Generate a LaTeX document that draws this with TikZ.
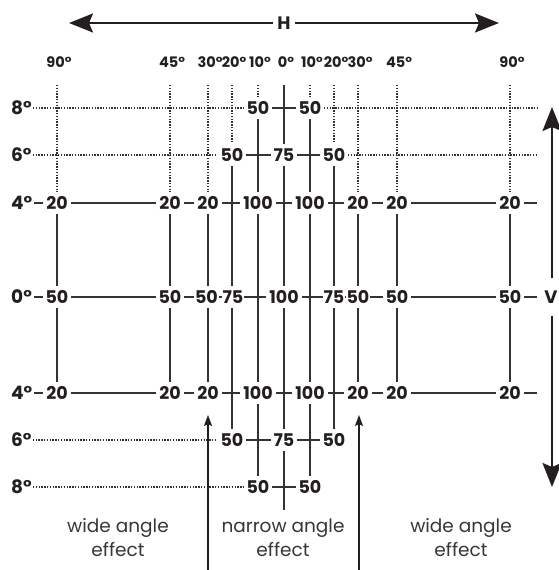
\documentclass[tikz,border=0pt]{standalone}
\usepackage{fontspec}
\setmainfont{Poppins}
\usetikzlibrary{arrows.meta}
\pgfdeclarelayer{bg}
\pgfsetlayers{bg,main}
\definecolor{ink}{HTML}{231F20}
\definecolor{ln}{HTML}{333333}
\begin{document}
\begin{tikzpicture}[x=1pt,y=-1pt,
  val/.style={font=\fontsize{17.5}{17.5}\selectfont\bfseries, text=ink, fill=white, inner xsep=3pt, inner ysep=4.5pt},
  tight/.style={inner xsep=0.7pt},
  hdr/.style={font=\fontsize{14.5}{15}\selectfont\bfseries, text=ink, inner sep=0pt},
  rowlab/.style={font=\fontsize{18.5}{19}\selectfont\bfseries, text=ink, anchor=west, inner sep=0pt},
  caption/.style={font=\fontsize{18.5}{24}\selectfont, text=ink!90, anchor=base},
  solidln/.style={draw=ln, line width=1.4pt},
  dotln/.style={draw=ln, line width=1.2pt, dash pattern=on 1.4pt off 1.4pt},
  bigarrow/.style={draw=ink, line width=2.2pt, -{Stealth[length=24pt,width=19pt,inset=4pt]}},
  thinarrow/.style={draw=ink, line width=1.3pt, -{Stealth[length=11pt,width=8pt,inset=2pt]}},
]
\useasboundingbox (0,0) rectangle (558,570);

% ---- header angles
\foreach \n/\x/\t in {A/57/90, B/170/45, C/208/30, D/232/20, E/258/10, F/284/0, G/310/10, H/334/20, I/358/30, J/397/45, K/510/90}{
  \node[hdr] (h\n) at (\x+2,62) {\t°};
  \coordinate (t\n) at (\x,85);
}

% ---- row labels
\foreach \r/\y/\t in {8U/108/8, 6U/155/6, 4U/203/4, 0/297/0, 4L/393/4, 6L/440/6, 8L/487/8}{
  \node[rowlab] (d\r) at (11,\y) {\t°};
}

% ---- values
\foreach \r/\y in {4U/203, 4L/393}{
  \foreach \n/\x/\v in {A/57/20, B/170/20, C/208/20, E/258/100, G/310/100, I/358/20, J/397/20, K/510/20}{
    \node[val] (\n-\r) at (\x,\y) {\v};
  }
}
\foreach \n/\x/\v in {A/57/50, B/170/50, J/397/50, K/510/50, F/284/100}{
  \node[val] (\n-0) at (\x,297) {\v};
}
\foreach \n/\x/\v in {C/206.5/50, D/233/75, H/334/75, I/358/50}{
  \node[val,tight] (\n-0) at (\x,297) {\v};
}
\foreach \r/\y in {6U/155, 6L/440}{
  \foreach \n/\x/\v in {D/232/50, F/284/75, H/334/50}{
    \node[val] (\n-\r) at (\x,\y) {\v};
  }
}
\foreach \r/\y in {8U/108, 8L/487}{
  \foreach \n/\x/\v in {E/258/50, G/310/50}{
    \node[val] (\n-\r) at (\x,\y) {\v};
  }
}

% ---- line end points
\coordinate (e8U) at (537,108);
\coordinate (e6U) at (537,155);
\coordinate (e4U) at (537,203);
\coordinate (e0)  at (537,297);
\coordinate (e4L) at (537,393);
\coordinate (bF)  at (284,510);

% ---- H and V axes
\node[font=\fontsize{18}{18}\selectfont\bfseries, text=ink, inner xsep=4pt, inner ysep=0pt] (Hlab) at (284,23) {H};
\coordinate (hl) at (69,23);
\coordinate (hr) at (499,23);
\node[font=\fontsize{18}{18}\selectfont\bfseries, text=ink, inner xsep=0pt, inner ysep=12pt] (Vlab) at (551,297) {V};
\coordinate (vt) at (552,107);
\coordinate (vb) at (552,487);
\draw[bigarrow] (Hlab.west) -- (hl);
\draw[bigarrow] (Hlab.east) -- (hr);
\draw[bigarrow] (Vlab.north -| vt) -- (vt);
\draw[bigarrow] (Vlab.south -| vb) -- (vb);

% ---- bottom arrows
\coordinate (sC) at (208,572);
\coordinate (aC) at (208,415);
\coordinate (sI) at (359,572);
\coordinate (aI) at (359,415);
\draw[thinarrow] (sC) -- (aC);
\draw[thinarrow] (sI) -- (aI);

% ---- captions
\node[caption] (c1a) at (118,532) {wide angle};
\node[caption] (c1b) at (118,556) {effect};
\node[caption] (c2a) at (283,532) {narrow angle};
\node[caption] (c2b) at (283,556) {effect};
\node[caption] (c3a) at (461,532) {wide angle};
\node[caption] (c3b) at (461,556) {effect};

% ---- grid lines (behind the values)
\begin{pgfonlayer}{bg}
  % rows
  \draw[solidln] ([xshift=2pt]d4U.east) -- (e4U);
  \draw[solidln] ([xshift=2pt]d0.east) -- (e0);
  \draw[solidln] ([xshift=2pt]d4L.east) -- (e4L);
  \draw[dotln] ([xshift=1pt]d8U.east) -- (E-8U.center);
  \draw[solidln] (E-8U.center) -- (G-8U.center);
  \draw[dotln] (G-8U.center) -- (e8U);
  \draw[dotln] ([xshift=1pt]d6U.east) -- (D-6U.center);
  \draw[solidln] (D-6U.center) -- (H-6U.center);
  \draw[dotln] (H-6U.center) -- (e6U);
  \draw[dotln] ([xshift=1pt]d6L.east) -- (D-6L.center);
  \draw[solidln] (D-6L.center) -- (H-6L.center);
  \draw[dotln] ([xshift=1pt]d8L.east) -- (E-8L.center);
  \draw[solidln] (E-8L.center) -- (G-8L.center);
  % columns
  \foreach \n in {A,B,C,I,J,K}{
    \draw[dotln] (t\n) -- (\n-4U.center);
    \draw[solidln] (\n-4U.center) -- (\n-4L.center);
  }
  \foreach \n in {D,H}{
    \draw[dotln] (t\n) -- (\n-6U.center);
    \draw[solidln] (\n-6U.center) -- (\n-6L.center);
  }
  \foreach \n in {E,G}{
    \draw[dotln] (t\n) -- (\n-8U.center);
    \draw[solidln] (\n-8U.center) -- (\n-8L.center);
  }
  \draw[solidln] (tF) -- (bF);
\end{pgfonlayer}
\end{tikzpicture}
\end{document}
